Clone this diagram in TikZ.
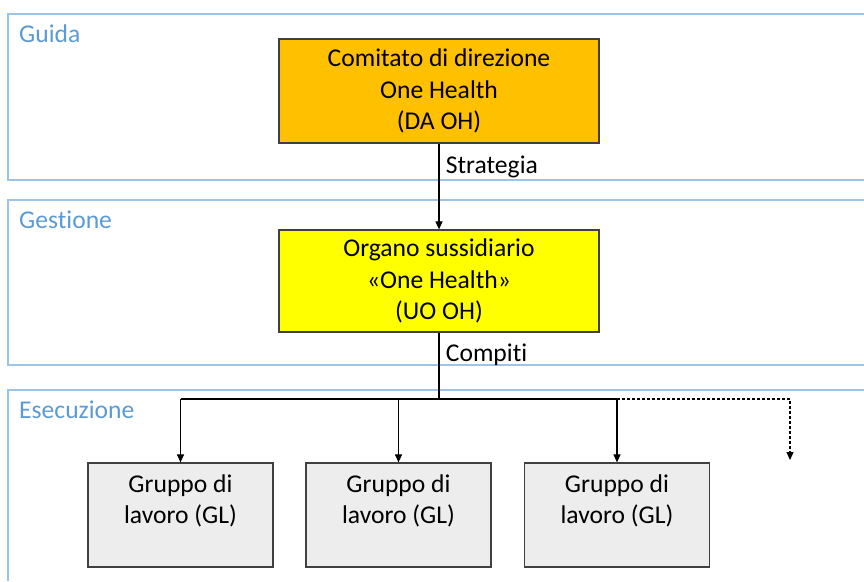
\documentclass[tikz,border=0pt]{standalone}
\usepackage{fontspec}
\setmainfont{Carlito}[Ligatures=NoCommon]
\usepackage{xcolor}
\usepackage{tikz}
\usetikzlibrary{arrows.meta,positioning}

\definecolor{bandline}{HTML}{9DC3E6}
\definecolor{bandtext}{HTML}{5B9BD5}
\definecolor{leadfill}{HTML}{FFC000}
\definecolor{managefill}{HTML}{FFFF00}
\definecolor{groupfill}{HTML}{EDEDED}
\definecolor{boxline}{HTML}{404040}

\begin{document}
\begin{tikzpicture}[x=1pt, y=-1pt,
  every node/.style={font=\fontsize{25.6}{31.5}\selectfont},
  band/.style={draw=bandline, line width=1.2pt},
  bandlabel/.style={anchor=west, text=bandtext, inner sep=0pt},
  orgbox/.style={draw=boxline, line width=1.2pt, align=center, inner sep=0pt},
  link/.style={line width=1.1pt, -{Triangle[width=7pt,length=8pt]}}]
\useasboundingbox (0, 0) rectangle (864, 581);
% bands
\draw[band] (864, 14) -- (8, 14) -- (8, 180) -- (864, 180);
\draw[band] (864, 200) -- (8, 200) -- (8, 365) -- (864, 365);
\draw[band] (864, 390) -- (8, 390) -- (8, 581);
\node[bandlabel] (guida) at (19, 34) {Guida};
\node[bandlabel] (gestione) at (19, 220) {Gestione};
\node[bandlabel] (esecuzione) at (19, 410) {Esecuzione};
% boxes
\node[orgbox, fill=leadfill, minimum width=320pt, minimum height=104pt] (daoh) at (439, 91)
  {\rule{0pt}{4pt}Comitato di direzione\\One Health\\(DA OH)};
\node[orgbox, fill=managefill, minimum width=320pt, minimum height=102pt] (uooh) at (439, 281)
  {\rule{0pt}{4pt}Organo sussidiario\\«One Health»\\(UO OH)};
\node[orgbox, fill=groupfill, minimum width=185pt, minimum height=104pt] (gl1) at (180.5, 515)
  {Gruppo di\\lavoro (GL)\\~};
\node[orgbox, fill=groupfill, minimum width=185pt, minimum height=104pt] (gl2) at (398.5, 515)
  {Gruppo di\\lavoro (GL)\\~};
\node[orgbox, fill=groupfill, minimum width=185pt, minimum height=104pt] (gl3) at (617, 515)
  {Gruppo di\\lavoro (GL)\\~};
% links
\coordinate (split) at (439, 399);
\coordinate (more) at (790, 460);
\draw[link] (daoh) -- (uooh) node[pos=0.27, right=3pt] {Strategia};
\draw[line width=1.1pt] (uooh) -- (split) node[pos=0.33, right=3pt] {Compiti};
\draw[line width=1.1pt] (gl1.north |- split) -- (gl3.north |- split);
\draw[link] (gl1.north |- split) -- (gl1);
\draw[link] (gl2.north |- split) -- (gl2);
\draw[link] (gl3.north |- split) -- (gl3);
\draw[link, dash pattern=on 3pt off 2pt] (gl3.north |- split) -| (more);
\end{tikzpicture}
\end{document}
